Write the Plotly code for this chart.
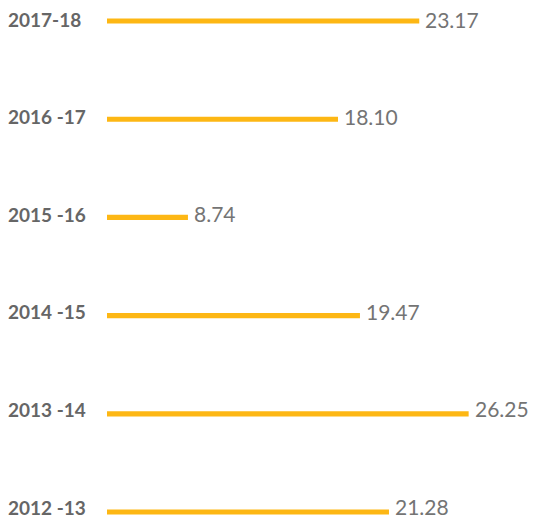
import plotly.graph_objects as go

years = ["2012 -13", "2013 -14", "2014 -15", "2015 -16", "2016 -17", "2017-18"]
values = [21.28, 26.25, 19.47, 8.74, 18.10, 23.17]

BAR_COLOR = "#FDB714"
LABEL_COLOR = "#666666"
VALUE_COLOR = "#747474"

fig = go.Figure()
fig.add_trace(go.Bar(
    y=list(range(len(years))), x=values, orientation="h",
    marker=dict(color=BAR_COLOR, line=dict(width=0)),
    width=0.052, hoverinfo="skip",
))

n = len(years)
for i, (yr, v) in enumerate(zip(years, values)):
    # text rows sit slightly higher relative to the bars toward the bottom
    lab_shift = 2 + (n - 1 - i) * 0.6
    val_shift = 2 + (n - 1 - i) * 0.8
    fig.add_annotation(x=0, xref="paper", y=i, yref="y", text=f"<b>{yr}</b>",
                       xanchor="left", yanchor="middle", showarrow=False, xshift=-100, yshift=lab_shift,
                       borderpad=0, font=dict(family="Lato", size=19, color=LABEL_COLOR))
    fig.add_annotation(x=v, xref="x", y=i, yref="y", text=f"{v:.2f}",
                       xanchor="left", yanchor="middle", showarrow=False, xshift=5, yshift=val_shift,
                       borderpad=0, font=dict(family="Lato", size=21, color=VALUE_COLOR))

fig.update_layout(
    width=548, height=520,
    margin=dict(l=107, r=0, t=0, b=0),
    plot_bgcolor="white", paper_bgcolor="white",
    showlegend=False,
    xaxis=dict(range=[3.69, 31.2], visible=False, fixedrange=True),
    yaxis=dict(range=[-0.081, 5.214], visible=False, fixedrange=True),
)
fig.write_html("out.html", config={"displayModeBar": False},
               post_script="document.body.style.margin='0';document.body.style.overflow='hidden';")
